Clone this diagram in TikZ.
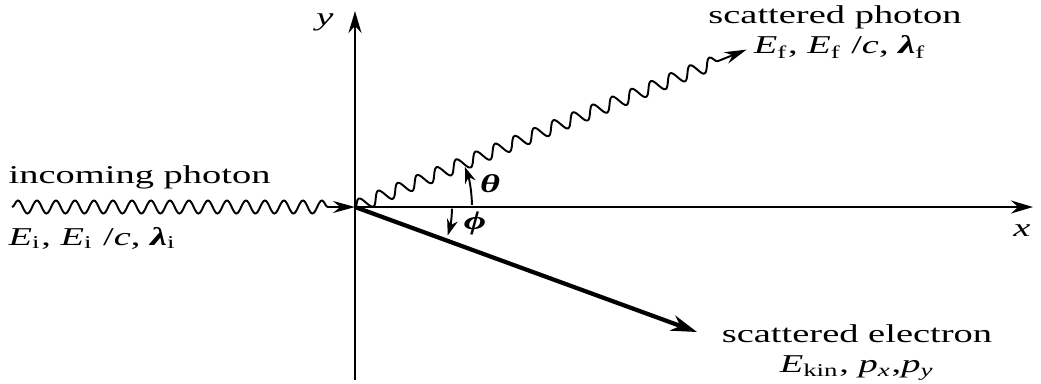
\documentclass[tikz,border=0pt]{standalone}
\usepackage{fontspec}
\setmainfont{Liberation Serif}[FakeStretch=1.5]
\usetikzlibrary{positioning,arrows.meta,calc,decorations.pathmorphing}

\begin{document}
\begin{tikzpicture}[
    axis/.style={draw=black, line width=0.65pt, -{Stealth[length=2.2mm,width=1.3mm]}},
    wave/.style={draw=black, line width=0.55pt, -{Stealth[length=2.2mm,width=1.2mm]},
                 decorate, decoration={snake, amplitude=0.65mm, segment length=1.9mm,
                 post length=2.6mm}},
    elec/.style={draw=black, line width=1.2pt, -{Stealth[length=2.6mm,width=1.6mm]}},
    angarr/.style={draw=black, line width=0.55pt, -{Stealth[length=1.6mm,width=1.1mm]}},
    lab/.style={font=\fontsize{7.3}{9}\selectfont, inner sep=0pt},
  ]
  \useasboundingbox (0,0) rectangle (10.41,3.83);
  \coordinate (O) at (3.55,1.76);
  \coordinate (ybot) at (3.55,0.03);
  \coordinate (ytop) at (3.55,3.72);
  \coordinate (xend) at (10.33,1.76);
  \coordinate (win) at (0.12,1.76);
  \coordinate (pf) at ($(O)+(21.9:4.22)$);
  \coordinate (ef) at (6.97,0.51);

  % axes
  \draw[axis] (ybot) -- (ytop);
  \draw[axis] (O) -- (xend);
  \node[lab, font=\fontsize{7.3}{9}\selectfont\itshape] (ylab) at (3.25,3.61) {y};
  \node[lab, font=\fontsize{7.3}{9}\selectfont\itshape] (xlab) at (10.22,1.52) {x};

  % photons and electron
  \draw[wave] (win) -- (O);
  \draw[wave, decoration={segment length=2.1mm}] (O) -- (pf);
  \draw[elec] (O) -- (ef);

  % angles
  \draw[angarr] ($(O)+(1:1.17)$) arc[start angle=1, end angle=20, radius=1.17];
  \draw[angarr] ($(O)+(-1:0.97)$) arc[start angle=-1, end angle=-17, radius=0.97];
  \node[lab] (theta) at (4.90,1.99) {\textbf{\textit{θ}}};
  \node[lab] (phi) at (4.75,1.60) {\textbf{\textit{ϕ}}};

  % labels
  \node[lab, anchor=west] (inc) at (0.08,2.06) {incoming photon};
  \node[lab, anchor=west] (ei) at (0.08,1.45)
    {\textit{E}\textsubscript{i}, \textit{E}\textsubscript{i} /\textit{c}, \textbf{\textit{λ}}\textsubscript{i}};
  \node[lab] (scph) at (8.35,3.66) {scattered photon};
  \node[lab] (ef1) at (8.40,3.36)
    {\textit{E}\textsubscript{f}, \textit{E}\textsubscript{f} /\textit{c}, \textbf{\textit{λ}}\textsubscript{f}};
  \node[lab] (scel) at (8.57,0.49) {scattered electron};
  \node[lab] (ekin) at (8.57,0.15)
    {\textit{E}\textsubscript{kin}, \textit{p\textsubscript{x}},\textit{p\textsubscript{y}}};
\end{tikzpicture}
\end{document}
